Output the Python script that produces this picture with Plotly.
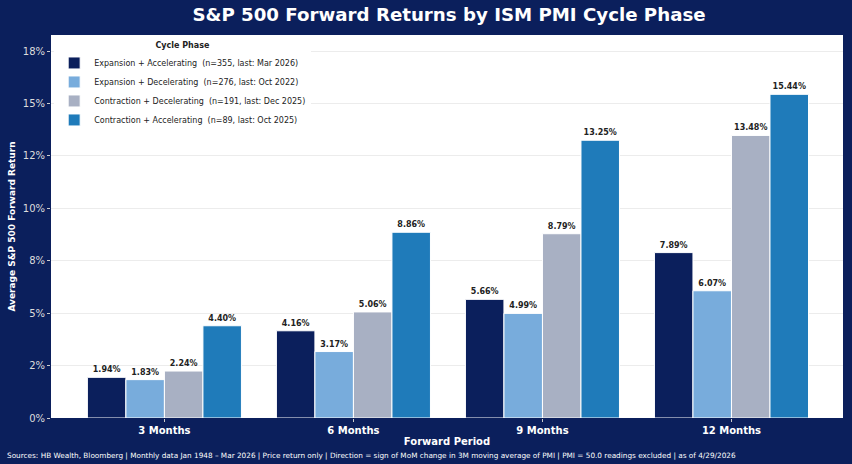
import plotly.graph_objects as go

categories = ["3 Months", "6 Months", "9 Months", "12 Months"]
series_names = [
    "Expansion + Accelerating  (n=355, last: Mar 2026)",
    "Expansion + Decelerating  (n=276, last: Oct 2022)",
    "Contraction + Decelerating  (n=191, last: Dec 2025)",
    "Contraction + Accelerating  (n=89, last: Oct 2025)",
]
exp_acc = [1.94, 4.16, 5.66, 7.89]
exp_dec = [1.83, 3.17, 4.99, 6.07]
con_dec = [2.24, 5.06, 8.79, 13.48]
con_acc = [4.40, 8.86, 13.25, 15.44]
series_values = [exp_acc, exp_dec, con_dec, con_acc]
colors = ["#0b1f5c", "#78acdc", "#a8b0c3", "#1f7bba"]
y_tickvals = [0, 2.5, 5, 7.5, 10, 12.5, 15, 17.5]
y_ticktext = ["0%", "2%", "5%", "8%", "10%", "12%", "15%", "18%"]

BG = "#0b1f5c"
FONT = "DejaVu Sans"

fig = go.Figure()
for name, vals, col in zip(series_names, series_values, colors):
    fig.add_trace(go.Bar(
        x=categories, y=vals, name=name,
        marker=dict(color=col, line=dict(color="white", width=1)),
        text=[f"{v:.2f}%" for v in vals],
        textposition="outside",
        textfont=dict(family=FONT, size=8, color="#222222", weight="bold"),
        cliponaxis=False,
    ))

fig.update_layout(
    width=852, height=464,
    margin=dict(l=51, r=9, t=35, b=46),
    paper_bgcolor=BG, plot_bgcolor="white",
    font=dict(family=FONT, color="white"),
    barmode="group", bargap=0.185, bargroupgap=0,
    title=dict(text="<b>S&P 500 Forward Returns by ISM PMI Cycle Phase</b>",
               x=0.527, xanchor="center", y=1 - 15 / 464, yanchor="middle",
               font=dict(family=FONT, size=18.2, color="white")),
    xaxis=dict(range=[-0.6, 3.59], showgrid=False, ticks="outside", ticklen=3,
               tickcolor="#cccccc",
               tickfont=dict(family=FONT, size=10, color="white", weight="bold"),
               title=dict(text="<b>Forward Period</b>", standoff=2,
                          font=dict(family=FONT, size=10, color="white"))),
    yaxis=dict(range=[0, 18.27], tickvals=y_tickvals, ticktext=y_ticktext,
               ticks="outside", ticklen=3, tickcolor="#cccccc",
               gridcolor="#ececec", gridwidth=1, zeroline=False,
               tickfont=dict(family=FONT, size=10, color="#dddddd"),
               title=dict(text="<b>Average S&P 500 Forward Return</b>", standoff=5,
                          font=dict(family=FONT, size=9, color="white"))),
    legend=dict(x=0.004, y=0.992, xanchor="left", yanchor="top",
                bgcolor="white", borderwidth=0,
                font=dict(family=FONT, size=8, color="#222222"),
                title=dict(text="<b>Cycle Phase</b>", side="top center",
                           font=dict(family=FONT, size=8, color="#222222")),
                itemwidth=30, tracegroupgap=0),
    showlegend=True,
)

fig.add_annotation(
    text="Sources: HB Wealth, Bloomberg | Monthly data Jan 1948 – Mar 2026 | Price return only | Direction = sign of MoM change in 3M moving average of PMI | PMI = 50.0 readings excluded | as of 4/29/2026",
    xref="paper", yref="paper", x=-51/792, y=-(454-418-5)/383, xanchor="left", yanchor="top",
    xshift=5, showarrow=False,
    font=dict(family=FONT, size=7.3, color="white"),
)

fig.write_html("out.html")
